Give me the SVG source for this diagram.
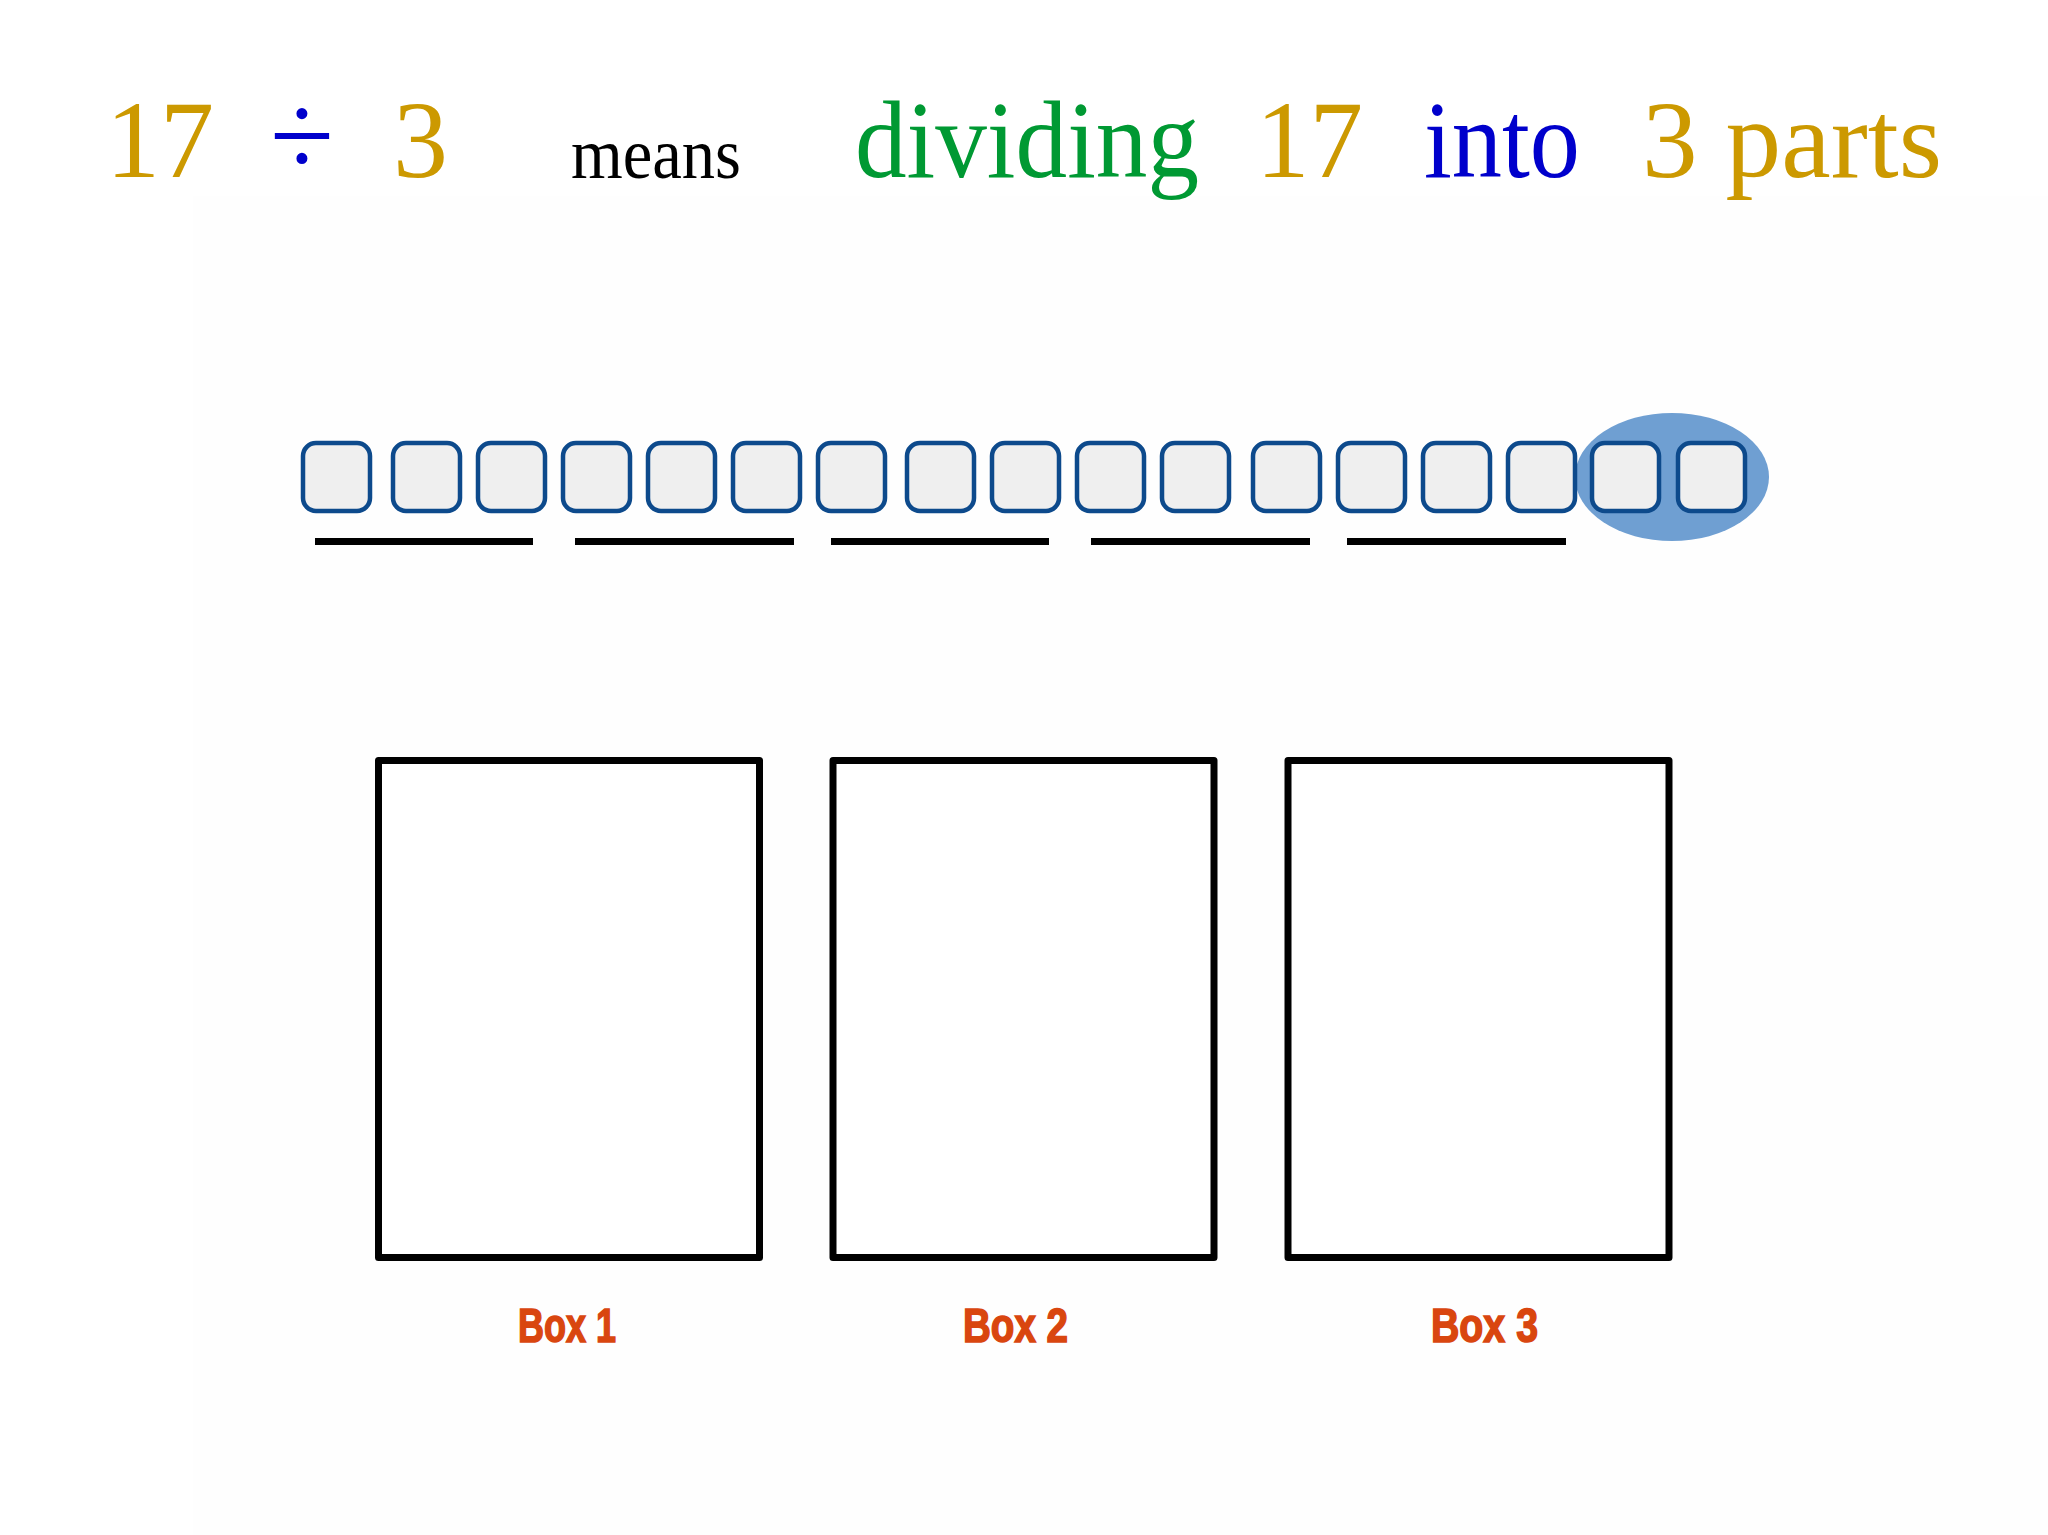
<svg xmlns="http://www.w3.org/2000/svg" width="2048" height="1535" viewBox="0 0 2048 1535">
<style>
.t{font-family:"Liberation Serif","Times New Roman",serif;font-size:111px}
.gold{fill:#CC9900}.green{fill:#009933}.blue{fill:#0000CC}
.sq{fill:#EFEFEF;stroke:#0D4A8C;stroke-width:4.5}
.bar{stroke:#000;stroke-width:7}
.box{fill:#fff;stroke:#000;stroke-width:7;stroke-linejoin:round}
.lbl{font-family:"Liberation Sans",Arial,sans-serif;font-weight:bold;font-size:48px;fill:#D9460F;stroke:#D9460F;stroke-width:1.6}
</style>
<rect x="0" y="0" width="2048" height="1535" fill="#ffffff"/>
<rect x="193" y="196" width="1855" height="1339" fill="#fefefe"/>
<g id="title">
<text class="t gold" x="106" y="177" textLength="108" lengthAdjust="spacingAndGlyphs">17</text>
<text class="t blue" x="270" y="176" style="font-size:118px" textLength="64" lengthAdjust="spacingAndGlyphs">÷</text>
<text class="t gold" x="393" y="177" textLength="55" lengthAdjust="spacingAndGlyphs">3</text>
<text class="t" x="571" y="178" style="font-size:71px" textLength="170" lengthAdjust="spacingAndGlyphs">means</text>
<text class="t green" x="855" y="177" textLength="344" lengthAdjust="spacingAndGlyphs">dividing</text>
<text class="t gold" x="1256" y="177" textLength="107" lengthAdjust="spacingAndGlyphs">17</text>
<text class="t blue" x="1424" y="177" textLength="156" lengthAdjust="spacingAndGlyphs">into</text>
<text class="t gold" x="1642" y="177" textLength="300" lengthAdjust="spacingAndGlyphs">3 parts</text>
</g>
<g id="group-ellipse"><ellipse cx="1672" cy="477" rx="97" ry="64" fill="#6F9FD2"/></g>
<g id="squares">
<rect class="sq" x="303" y="443" width="67" height="68" rx="13"/>
<rect class="sq" x="393" y="443" width="67" height="68" rx="13"/>
<rect class="sq" x="478" y="443" width="67" height="68" rx="13"/>
<rect class="sq" x="563" y="443" width="67" height="68" rx="13"/>
<rect class="sq" x="648" y="443" width="67" height="68" rx="13"/>
<rect class="sq" x="733" y="443" width="67" height="68" rx="13"/>
<rect class="sq" x="818" y="443" width="67" height="68" rx="13"/>
<rect class="sq" x="907" y="443" width="67" height="68" rx="13"/>
<rect class="sq" x="992" y="443" width="67" height="68" rx="13"/>
<rect class="sq" x="1077" y="443" width="67" height="68" rx="13"/>
<rect class="sq" x="1162" y="443" width="67" height="68" rx="13"/>
<rect class="sq" x="1253" y="443" width="67" height="68" rx="13"/>
<rect class="sq" x="1338" y="443" width="67" height="68" rx="13"/>
<rect class="sq" x="1423" y="443" width="67" height="68" rx="13"/>
<rect class="sq" x="1508" y="443" width="67" height="68" rx="13"/>
<rect class="sq" x="1592" y="443" width="67" height="68" rx="13"/>
<rect class="sq" x="1678" y="443" width="67" height="68" rx="13"/>
</g>
<g id="bars">
<line class="bar" x1="315" y1="541.5" x2="533" y2="541.5"/>
<line class="bar" x1="575" y1="541.5" x2="794" y2="541.5"/>
<line class="bar" x1="831" y1="541.5" x2="1049" y2="541.5"/>
<line class="bar" x1="1091" y1="541.5" x2="1310" y2="541.5"/>
<line class="bar" x1="1347" y1="541.5" x2="1566" y2="541.5"/>
</g>
<g id="box1"><rect class="box" x="378.5" y="760.5" width="381" height="497"/><text class="lbl" x="518" y="1342" textLength="98" lengthAdjust="spacingAndGlyphs">Box 1</text></g>
<g id="box2"><rect class="box" x="833" y="760.5" width="381" height="497"/><text class="lbl" x="963" y="1342" textLength="105" lengthAdjust="spacingAndGlyphs">Box 2</text></g>
<g id="box3"><rect class="box" x="1288" y="760.5" width="381" height="497"/><text class="lbl" x="1431" y="1342" textLength="107" lengthAdjust="spacingAndGlyphs">Box 3</text></g>
<g id="connectors"/>
</svg>
